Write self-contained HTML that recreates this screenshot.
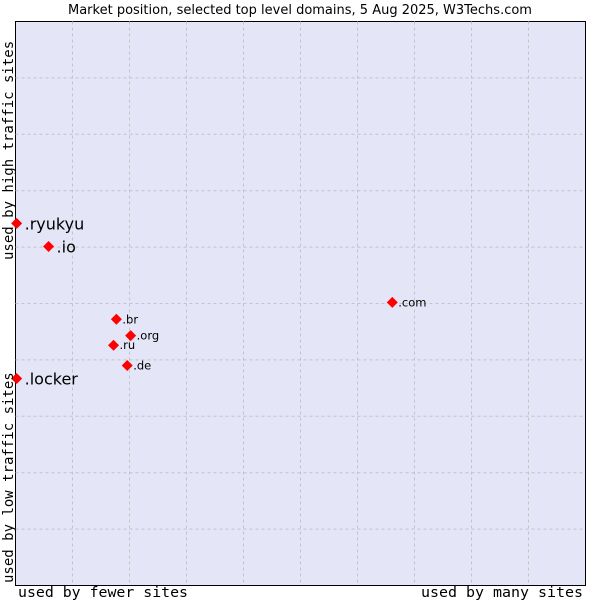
<!DOCTYPE html>
<html><head><meta charset="utf-8"><style>
body{margin:0;background:#fff;}
svg text{font-family:"DejaVu Sans","Liberation Sans",sans-serif;}
.mono{font-family:"DejaVu Sans Mono","Liberation Mono",monospace;}
</style></head><body>
<svg id="chart" width="600" height="600" xmlns="http://www.w3.org/2000/svg">
<text x="300" y="14" text-anchor="middle" font-size="13" fill="#000">Market position, selected top level domains, 5 Aug 2025, W3Techs.com</text>
<rect x="15.5" y="21.5" width="570" height="564" fill="#e4e5f7" stroke="#000" stroke-width="1"/>
<g id="grid"></g>
<g id="points"></g>
<text class="mono" x="18" y="597" font-size="14" textLength="170" lengthAdjust="spacingAndGlyphs">used by fewer sites</text>
<text class="mono" x="421" y="597" font-size="14" textLength="162" lengthAdjust="spacingAndGlyphs">used by many sites</text>
<text class="mono" transform="translate(13,583) rotate(-90)" font-size="14">used by low traffic sites</text>
<text class="mono" transform="translate(13,260) rotate(-90)" font-size="14">used by high traffic sites</text>
</svg>
<script>
const domains=[".ryukyu",".io",".com",".br",".org",".ru",".de",".locker"];
const siteShare=[0.02,0.58,6.61,1.77,2.02,1.72,1.96,0.02];
const trafficScore=[6.42,6.01,5.02,4.72,4.43,4.26,3.90,3.67];
const labelSizes=[16,16,11,11,11,11,11,16];
const gridTicks=[1,2,3,4,5,6,7,8,9];
const X0=15.5,X1=585.5,Y0=585.5,Y1=21.5;
const sx=v=>X0+(X1-X0)*v/10;
const sy=v=>Y0-(Y0-Y1)*v/10;
const NS="http://www.w3.org/2000/svg";
const g=document.getElementById("grid");
gridTicks.forEach(t=>{
  const v=document.createElementNS(NS,"line");
  v.setAttribute("x1",sx(t));v.setAttribute("x2",sx(t));v.setAttribute("y1",Y1);v.setAttribute("y2",Y0);
  v.setAttribute("stroke","#c4c4c4");v.setAttribute("stroke-dasharray","3,3");
  
  
  g.appendChild(v);
  const h=document.createElementNS(NS,"line");
  h.setAttribute("y1",sy(t));h.setAttribute("y2",sy(t));h.setAttribute("x1",X0);h.setAttribute("x2",X1);
  h.setAttribute("stroke","#c4c4c4");h.setAttribute("stroke-dasharray","3,3");
  
  
  g.appendChild(h);
});
const p=document.getElementById("points");
domains.forEach((d,i)=>{
  const x=sx(siteShare[i]),y=sy(trafficScore[i]);
  const m=document.createElementNS(NS,"polygon");
  m.setAttribute("points",`${x},${y-5.5} ${x+5.5},${y} ${x},${y+5.5} ${x-5.5},${y}`);
  m.setAttribute("fill","#f00");
  
  
  p.appendChild(m);
  const t=document.createElementNS(NS,"text");
  t.setAttribute("x",x+(labelSizes[i]>12?8:6));
  t.setAttribute("y",y+(labelSizes[i]>12?6:4));
  t.setAttribute("font-size",labelSizes[i]>12?16:11.5);
  t.textContent=d;
  
  
  p.appendChild(t);
});
</script>
</body></html>
